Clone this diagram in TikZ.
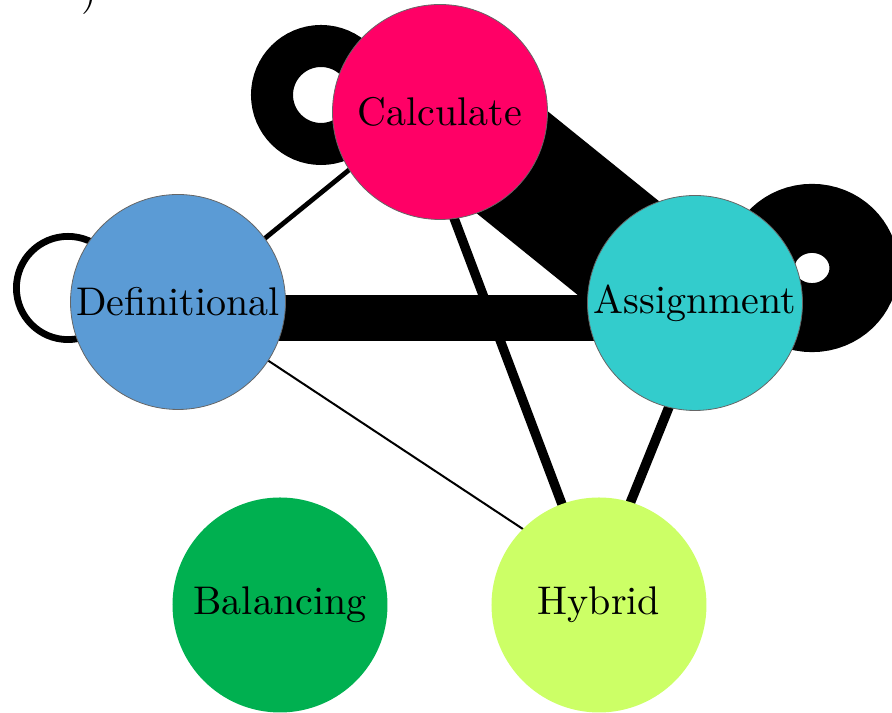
\documentclass[tikz,border=0pt]{standalone}
\usetikzlibrary{backgrounds}
\definecolor{calccol}{RGB}{255,0,102}
\definecolor{defcol}{RGB}{91,155,213}
\definecolor{asgcol}{RGB}{51,204,204}
\definecolor{balcol}{RGB}{0,176,80}
\definecolor{hybcol}{RGB}{204,255,102}
\tikzset{
  topic/.style={circle,minimum size=53.75pt,inner sep=0pt,font=\normalsize},
  rimmed/.style={topic,draw=black!60,line width=0.2pt},
  link/.style={draw=black,line cap=butt},
  selfloop/.style={draw=black},
}

\begin{document}
\begin{tikzpicture}[x=0.25pt,y=-0.25pt]
  \useasboundingbox (0,0) rectangle (892,713);
  % cut-off caption
  \node[inner sep=0pt,anchor=base west] (paren) at (81,5) {)};
  % topics
  \node[rimmed,fill=calccol] (calc) at (440,112) {Calculate};
  \node[rimmed,fill=defcol] (def) at (178,302) {Definitional};
  \node[rimmed,fill=asgcol] (asg) at (695,303) {Assignment};
  \node[topic,fill=balcol] (bal) at (280,605) {Balancing};
  \node[topic,fill=hybcol] (hyb) at (599,605) {Hybrid};
  % links, weighted
  \begin{scope}[on background layer]
    \draw[link,line width=31pt] ([shift={(0,-8)}]calc.center) -- ([shift={(0,7)}]asg.center);
    \draw[link,line width=11.7pt] ([shift={(0,16)}]def.center) -- ([shift={(0,15)}]asg.center);
    \draw[link,line width=1.2pt] ([shift={(0,7)}]def.center) -- ([shift={(0,-16)}]calc.center);
    \draw[link,line width=0.5pt] ([shift={(0,-1)}]def.center) -- ([shift={(-2,-27)}]hyb.center);
    \draw[link,line width=2.35pt] ([shift={(-26,0)}]calc.center) -- ([shift={(1,0)}]hyb.center);
    \draw[link,line width=2.4pt] ([shift={(16,0)}]asg.center) -- ([shift={(-10,0)}]hyb.center);
    % self loops
    \draw[selfloop,line width=10.5pt] ([shift={(-119,-17)}]calc.center) circle[radius=12.25pt];
    \draw[selfloop,line width=1.7pt] ([shift={(-110,-14)}]def.center) circle[radius=12.9pt];
    \draw[selfloop,line width=17.25pt] ([shift={(117,-35)}]asg.center)
      ellipse[x radius=13pt,y radius=12.4pt];
  \end{scope}
\end{tikzpicture}
\end{document}
